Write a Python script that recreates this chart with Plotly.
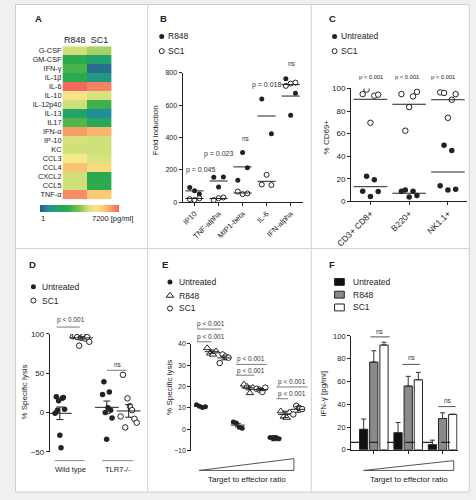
import numpy as np
import plotly.graph_objects as go

W, H = 476, 500
FONT = "Liberation Sans, Arial, sans-serif"
INK = "#222222"
GRAY = "#7a7a7a"

# ---------------- data ----------------
# Panel A: cytokine levels (pg/ml), colour = log scale 1..7200
cytokines = ["G-CSF", "GM-CSF", "IFN-γ", "IL-1β", "IL-6", "IL-10", "IL-12p40", "IL-13",
             "IL17", "IFN-α", "IP-10", "KC", "CCL3", "CCL4", "CXCL2", "CCL5", "TNF-α"]
heat_columns = ["R848", "SC1"]
heat_r848 = [206, 19, 35, 17, 7200, 598, 206, 7.1, 42, 2960, 246, 206, 501, 1455, 206, 206, 3864]
heat_sc1 = [132, 5.9, 1.4, 3.8, 4615, 246, 29, 2.4, 12, 1900, 206, 206, 246, 781, 19, 19, 1218]
heat_min, heat_max = 1, 7200

# Panel B: fold induction
b_categories = ["IP10", "TNF-alpha", "MIP1-beta", "IL-6", "IFN-alpha"]
b_r848 = [[91, 72, 51], [155, 95, 157], [136, 308, 213], [638, 423], [763, 537, 674]]
b_sc1 = [[20, 15, 25], [14, 26, 30], [67, 51, 55], [110, 170, 107], [719, 733, 739]]
b_r848_mean = [71, 132, 219, 533, 656]
b_sc1_mean = [24, 24, 58, 130, 727]
b_labels = ["p = 0.045", "p = 0.023", "ns", "p = 0.018", "ns"]

# Panel C: % CD69+
c_categories = ["CD3+ CD8+", "B220+", "NK1.1+"]
c_untreated = [[9, 22.3, 4.3, 19.1, 8.7], [9, 10, 3.8, 9, 5.2], [13.9, 49.6, 10, 45, 10.7]]
c_sc1 = [[95, 99, 69.6, 93.6, 94.5], [95, 62.6, 83.5, 93, 97], [96.5, 96, 74, 90, 95]]
c_untreated_mean = [13, 7.2, 26]
c_sc1_mean = [90.4, 86, 90]
c_labels = ["p < 0.001", "p < 0.001", "p < 0.001"]

# Panel D: % specific lysis
d_categories = ["Wild type", "TLR7-/-"]
d_untreated = [[-1, 20, 3, 15, -29, -45, 18, 19, 4], [23, 39, 0, -34, 6, 26, 3, -7]]
d_sc1 = [[97, 98, 96, 85, 95, 97, 94, 96, 90], [-5, 48, -19, 18, 8, 3, -8, -13]]
d_untreated_mean = [-1, 6.6]
d_untreated_sem = [8, 8]
d_sc1_mean = [95, 2]
d_sc1_sem = [1.5, 8]
d_labels = ["p < 0.001", "ns"]

# Panel E: % specific lysis vs target:effector ratio
e_untreated = [[11.5, 10.8, 10.2, 10.6], [3.5, 3.0, 1.0, 0.5], [-3.8, -4.2, -4.0, -4.4]]
e_r848 = [[38, 35.5, 35, 36.5], [21, 20, 17, 19.5], [8.5, 6, 5.5, 8]]
e_sc1 = [[31, 35, 34, 33.5], [19, 18.5, 17.5, 19.5], [7, 11, 10, 9.5]]
e_mean_untreated = [10.8, 2.0, -4.1]
e_mean_r848 = [36.3, 19.4, 7.0]
e_mean_sc1 = [33.4, 18.6, 9.4]
e_sem_untreated = [0.3, 0.8, 1.2]
e_sem_r848 = [0.8, 0.9, 1.5]
e_sem_sc1 = [0.9, 0.5, 1.4]
e_labels = ["p < 0.001", "p < 0.001"]

# Panel F: IFN-γ (pg/ml)
f_untreated = [18, 15, 4.5]
f_r848 = [77, 56, 27.5]
f_sc1 = [92, 61.5, 31]
f_untreated_err = [9, 9, 4]
f_r848_err = [10, 8.5, 5]
f_sc1_err = [2.5, 6.5, 0.4]
f_detection_limit = 6.6
f_labels = ["ns", "ns", "ns"]


# ---------------- helpers (screen pixel -> paper) ----------------
def px(x):
    return x / W


def py(y):
    return 1 - y / H


def dom_x(a, b):
    return [px(a), px(b)]


def dom_y(top, bottom):
    return [py(bottom), py(top)]


def jitter(n, w):
    return np.linspace(-w, w, n) if n > 1 else np.zeros(1)


def spread(groups, w, base_offset=0.0):
    xs, ys = [], []
    for i, vals in enumerate(groups):
        xs += list(i + base_offset + jitter(len(vals), w))
        ys += list(vals)
    return xs, ys


annotations = []
shapes = []


def text(t, x, y, size=7, xanchor="center", yanchor="middle", bold=False, angle=0, color=INK):
    annotations.append(dict(
        text=f"<b>{t}</b>" if bold else t, x=px(x), y=py(y), xref="paper", yref="paper",
        xanchor=xanchor, yanchor=yanchor, showarrow=False, textangle=angle,
        font=dict(family=FONT, size=size, color=color), borderpad=0))


def hline(x0, x1, y, color=GRAY, width=1, dash="solid"):
    shapes.append(dict(type="line", xref="paper", yref="paper", x0=px(x0), x1=px(x1),
                       y0=py(y), y1=py(y), line=dict(color=color, width=width, dash=dash)))


def vline(x, y0, y1, color="#d2d2d2"):
    shapes.append(dict(type="line", xref="paper", yref="paper", x0=px(x), x1=px(x),
                       y0=py(y0), y1=py(y1), line=dict(color=color, width=1)))


def wedge(x0, x1, ytop, ybot):
    path = (f"M {px(x0)},{py(ybot)} L {px(x1)},{py(ytop)} L {px(x1)},{py(ybot)} Z")
    shapes.append(dict(type="path", xref="paper", yref="paper", path=path,
                       line=dict(color="#555555", width=1), fillcolor="rgba(0,0,0,0)"))


filled = dict(color=INK, size=5)
opened = dict(color="white", size=5, line=dict(color=INK, width=1))

fig = go.Figure()

# ---------------- Panel A ----------------
heat_scale = [
    [0.0, "#2d5b86"], [0.1, "#21909a"], [0.22, "#21a468"], [0.35, "#2eab48"],
    [0.5, "#7cc34e"], [0.6, "#cfe07a"], [0.7, "#f7e98a"], [0.82, "#f9c472"],
    [1.0, "#f06a5c"]]
z = np.log10(np.column_stack([heat_r848, heat_sc1]))
fig.add_trace(go.Heatmap(
    z=z, x=heat_columns, y=cytokines, xaxis="x", yaxis="y", colorscale=heat_scale,
    zmin=np.log10(heat_min), zmax=np.log10(heat_max), hoverinfo="skip",
    colorbar=dict(orientation="h", x=px(67), xanchor="center", y=py(205), yanchor="top",
                  len=82 / W, lenmode="fraction", thickness=7, thicknessmode="pixels",
                  outlinewidth=0, showticklabels=False, ticks="", xpad=0, ypad=0)))
text(str(heat_min), 26, 218, size=7.5, xanchor="left")
text(f"{heat_max} [pg/ml]", 123, 218, size=7.5, xanchor="right")

# ---------------- Panel B ----------------
x, y = spread(b_r848, 0.2)
fig.add_trace(go.Scatter(x=x, y=y, mode="markers", marker=filled, xaxis="x2", yaxis="y2"))
x, y = spread(b_sc1, 0.2)
fig.add_trace(go.Scatter(x=x, y=y, mode="markers", marker=opened, xaxis="x2", yaxis="y2"))
mean_marker = dict(symbol="line-ew", size=13, line=dict(color=INK, width=1))
fig.add_trace(go.Scatter(x=list(range(len(b_categories))) * 2, y=b_r848_mean + b_sc1_mean,
                         mode="markers", marker=mean_marker, xaxis="x2", yaxis="y2"))
b_label_pos = [(192, 169), (210, 153), (239, 137), (260, 82), (286, 61)]
for lab, (lx, ly) in zip(b_labels, b_label_pos):
    text(lab, lx, ly, size=7 if lab != "ns" else 6.5, color="#333")

# ---------------- Panel C ----------------
x, y = spread(c_untreated, 0.2)
fig.add_trace(go.Scatter(x=x, y=y, mode="markers", marker=dict(filled, size=5.5),
                         xaxis="x3", yaxis="y3"))
x, y = spread(c_sc1, 0.2)
fig.add_trace(go.Scatter(x=x, y=y, mode="markers", marker=dict(opened, size=5.5),
                         xaxis="x3", yaxis="y3"))
fig.add_trace(go.Scatter(x=list(range(3)) * 2, y=c_untreated_mean + c_sc1_mean, mode="markers",
                         marker=dict(symbol="line-ew", size=24, line=dict(color=INK, width=1)),
                         xaxis="x3", yaxis="y3"))
for lab, lx in zip(c_labels, [368, 405, 442]):
    text(lab, lx, 74, size=5.8)

# ---------------- Panel D ----------------
for gi in range(2):
    xu = gi - 0.22 + jitter(len(d_untreated[gi]), 0.1)
    xs = gi + 0.23 + jitter(len(d_sc1[gi]), 0.17)
    fig.add_trace(go.Scatter(x=xu, y=d_untreated[gi], mode="markers",
                             marker=dict(filled, size=5.5), xaxis="x4", yaxis="y4"))
    fig.add_trace(go.Scatter(x=xs, y=d_sc1[gi], mode="markers",
                             marker=dict(opened, size=5.5), xaxis="x4", yaxis="y4"))
fig.add_trace(go.Scatter(
    x=[-0.22, 0.77, 0.23, 1.23], y=[d_untreated_mean[0], d_untreated_mean[1], d_sc1_mean[0], d_sc1_mean[1]],
    error_y=dict(type="data", array=[d_untreated_sem[0], d_untreated_sem[1], d_sc1_sem[0], d_sc1_sem[1]],
                 width=3.5, thickness=1, color=INK),
    mode="markers", marker=dict(symbol="line-ew", size=17, line=dict(color=INK, width=1)),
    xaxis="x4", yaxis="y4"))
hline(41, 72, 465, color="#888")
hline(90, 122, 465, color="#888")
text(d_categories[0], 57, 474, size=7.5)
text(d_categories[1], 106, 474, size=7.5)
hline(43, 67, 329)
text(d_labels[0], 58, 322, size=6.5, color="#333")
hline(95, 115, 373)
text(d_labels[1], 106, 367, size=6.5, color="#333")

# ---------------- Panel E ----------------
e_offsets = [-0.29, 0.0, 0.34]
e_sets = [(e_untreated, filled, e_mean_untreated, e_sem_untreated),
          (e_r848, dict(symbol="triangle-up", color="white", size=6.5, line=dict(color=INK, width=1)),
           e_mean_r848, e_sem_r848),
          (e_sc1, dict(opened, size=5.5), e_mean_sc1, e_sem_sc1)]
for off, (vals, mk, means, sems) in zip(e_offsets, e_sets):
    x, y = spread(vals, 0.12, off)
    fig.add_trace(go.Scatter(x=x, y=y, mode="markers", marker=mk, xaxis="x5", yaxis="y5"))
    fig.add_trace(go.Scatter(
        x=[g + off for g in range(3)], y=means,
        error_y=dict(type="data", array=sems, width=3, thickness=1, color=INK),
        mode="markers", marker=dict(symbol="line-ew", size=10, line=dict(color=INK, width=1)),
        xaxis="x5", yaxis="y5"))
e_bars = [(202, 326, 331, 188, 213, 339, 344, 203),
          (244, 361, 367, 228, 260, 374, 378, 247),
          (286, 385, 390, 270, 302, 397, 402, 282)]
for cx, t1, l1, xa, xb, t2, l2, xc in e_bars:
    text(e_labels[0], cx, t1, size=6.5, color="#333")
    hline(xa, xb, l1)
    text(e_labels[1], cx, t2, size=6.5, color="#333")
    hline(xa, xc, l2)
wedge(190, 288, 463, 475)
text("Target to effector ratio", 240, 484, size=8)

# ---------------- Panel F ----------------
for vals, errs, col in [(f_untreated, f_untreated_err, "#111111"),
                        (f_r848, f_r848_err, "#8a8a8a"),
                        (f_sc1, f_sc1_err, "#ffffff")]:
    fig.add_trace(go.Bar(
        x=[0, 1, 2], y=vals, xaxis="x6", yaxis="y6",
        marker=dict(color=col, line=dict(color=INK, width=1)),
        error_y=dict(type="data", array=errs, arrayminus=[0, 0, 0], symmetric=False,
                     width=2.5, thickness=1, color="#333")))
shapes.append(dict(type="line", xref="paper", yref="y6", x0=px(347), x1=px(457),
                   y0=f_detection_limit, y1=f_detection_limit,
                   line=dict(color=INK, width=1.2, dash="dash")))
for lab, (lx, ly, x0, x1, ly2) in zip(f_labels, [(377, 333, 367, 387, 339),
                                                 (410, 360, 400, 418, 367),
                                                 (447, 404, 437, 455, 410)]):
    text(lab, lx, ly, size=6.5, color="#333")
    hline(x0, x1, ly2, color="#555")
wedge(360, 453, 465, 475)
text("Target to effector ratio", 407, 484, size=8)

# ---------------- legends (overlay pixel axis) ----------------
leg_items = [
    (151.5, 33, filled), (151.5, 48, opened),
    (330, 33, filled), (330, 48, opened),
    (19, 288, filled), (19, 302, opened),
    (160, 283, filled),
    (160, 297, dict(symbol="triangle-up", color="white", size=6.5, line=dict(color=INK, width=1))),
    (160, 310, opened),
]
for lx, ly, mk in leg_items:
    fig.add_trace(go.Scatter(x=[lx], y=[ly], mode="markers", marker=mk, xaxis="x7", yaxis="y7"))
for lab, lx, ly in [("R848", 157, 33), ("SC1", 157, 48), ("Untreated", 336, 33), ("SC1", 336, 48),
                    ("Untreated", 27, 288), ("SC1", 27, 302), ("Untreated", 168, 283),
                    ("R848", 168, 297), ("SC1", 168, 310), ("Untreated", 348, 283),
                    ("R848", 348, 296), ("SC1", 348, 309)]:
    text(lab, lx, ly, size=8.5, xanchor="left")
for ly, col in [(283, "#111111"), (296, "#8a8a8a"), (309, "#ffffff")]:
    shapes.append(dict(type="rect", xref="paper", yref="paper", x0=px(330), x1=px(340),
                       y0=py(ly + 3.5), y1=py(ly - 3.5), fillcolor=col, line=dict(color=INK, width=1)))

# panel letters
for lab, lx, ly in [("A", 24, 15), ("B", 153, 15), ("C", 328, 15),
                    ("D", 18.5, 265), ("E", 155, 265), ("F", 327, 265)]:
    text(lab, lx, ly, size=9.5, bold=True)

# y titles
text("Fold induction", 145, 128, size=8, angle=-90)
text("% CD69+", 322, 135, size=8, angle=-90)
text("% Specific lysis", 10, 395, size=8, angle=-90)
text("% Specific lysis", 160, 390, size=8, angle=-90)
text("IFN-γ [pg/ml]", 319, 397, size=8, angle=-90)

# frame & dividers
shapes.insert(0, dict(type="rect", xref="paper", yref="paper", x0=px(0.5), x1=px(469),
                      y0=py(497), y1=py(0.5), fillcolor="white", line=dict(color="#cccccc", width=1),
                      layer="below"))
vline(137, 0.5, 497)
vline(306, 0.5, 497)
shapes.append(dict(type="line", xref="paper", yref="paper", x0=px(0.5), x1=px(469),
                   y0=py(249), y1=py(249), line=dict(color="#d2d2d2", width=1)))


# ---------------- axes ----------------
def ax(size=7, **kw):
    d = dict(showline=True, linecolor=INK, linewidth=1, ticks="outside", ticklen=3, tickwidth=1,
             tickcolor=INK, showgrid=False, zeroline=False, fixedrange=True,
             tickfont=dict(family=FONT, size=size, color=INK))
    d.update(kw)
    return d


hidden = dict(visible=False, showgrid=False, zeroline=False, fixedrange=True)

fig.update_layout(
    width=W, height=H, margin=dict(l=0, r=0, t=0, b=0),
    paper_bgcolor="#f0f0f0", plot_bgcolor="rgba(0,0,0,0)", showlegend=False,
    barmode="group", bargap=0.113, bargroupgap=0.19,
    font=dict(family=FONT, color=INK),
    xaxis=dict(domain=dom_x(49, 100), anchor="y", side="top", showline=False, ticks="",
               showgrid=False, zeroline=False, fixedrange=True,
               tickfont=dict(family=FONT, size=9, color=INK)),
    yaxis=dict(domain=dom_y(43, 199), anchor="x", autorange="reversed", showline=False, ticks="",
               showgrid=False, zeroline=False, fixedrange=True, tickmode="array",
               tickvals=cytokines, ticktext=cytokines,
               tickfont=dict(family=FONT, size=7.3, color=INK)),
    xaxis2=ax(7.5, domain=dom_x(173, 297), anchor="y2", range=[-0.5, 4.5], tickmode="array",
              tickvals=list(range(5)), ticktext=b_categories, tickangle=-45),
    yaxis2=ax(7, domain=dom_y(70, 202), anchor="x2", range=[0, 800], tickvals=[0, 200, 400, 600, 800]),
    xaxis3=ax(8.5, domain=dom_x(347, 467), anchor="y3", range=[-0.5, 2.5], tickmode="array",
              tickvals=[0, 1, 2], ticktext=c_categories, tickangle=-45),
    yaxis3=ax(8, domain=dom_y(86, 201), anchor="x3", range=[0, 100], tickvals=[0, 20, 40, 60, 80, 100]),
    xaxis4=dict(hidden, domain=dom_x(36, 135), anchor="y4", range=[-0.43, 1.59]),
    yaxis4=ax(8, domain=dom_y(336, 456), anchor="x4", range=[-50, 100], tickvals=[-50, 0, 50, 100]),
    xaxis5=dict(hidden, domain=dom_x(182, 305), anchor="y5", range=[-0.553, 2.684]),
    yaxis5=ax(7, domain=dom_y(346, 455), anchor="x5", range=[-10, 40], tickvals=[-10, 0, 10, 20, 30, 40]),
    xaxis6=ax(7, domain=dom_x(347, 457), anchor="y6", range=[-0.662, 2.437], tickvals=[0, 1, 2],
              showticklabels=False),
    yaxis6=ax(7.5, domain=dom_y(338, 454), anchor="x6", range=[0, 100], tickvals=[0, 20, 40, 60, 80, 100]),
    xaxis7=dict(hidden, domain=[0, 1], anchor="y7", range=[0, W]),
    yaxis7=dict(hidden, domain=[0, 1], anchor="x7", range=[H, 0]),
    annotations=annotations, shapes=shapes,
)

fig.write_html("out.html", config=dict(displayModeBar=False, staticPlot=True),
               post_script="document.body.style.margin='0';document.body.style.padding='0';"
                           "document.body.style.overflow='hidden';"
                           "document.querySelectorAll('.main-svg').forEach(function(s){"
                           "s.style.opacity='0.999';});")
